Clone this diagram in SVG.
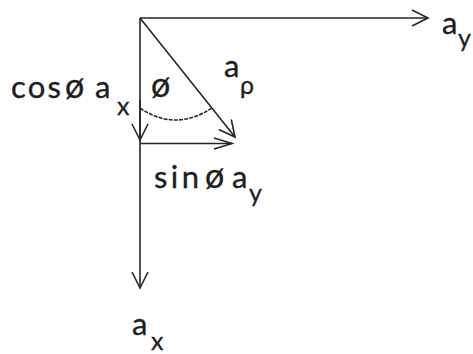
<svg xmlns="http://www.w3.org/2000/svg" width="473" height="354" viewBox="0 0 473 354">
<style>
.ln{stroke:#262626;stroke-width:1.6;fill:none}
.t{font-family:Lato,"Open Sans",sans-serif;font-size:31px;fill:#1e1e1e;stroke:#1e1e1e;stroke-width:0.35}
.p{font-size:34px}
.s{font-family:Lato,"Open Sans",sans-serif;font-size:25px;fill:#1e1e1e;stroke:#1e1e1e;stroke-width:0.3}
</style>
<defs>
<marker id="ah" markerUnits="userSpaceOnUse" viewBox="-18 -10 20 20" refX="0" refY="0" markerWidth="20" markerHeight="20" orient="auto" overflow="visible">
<path d="M-16,-8 L0,0 L-16,8" fill="none" stroke="#262626" stroke-width="1.6"/>
</marker>
<marker id="ahs" markerUnits="userSpaceOnUse" viewBox="-18 -10 20 20" refX="0" refY="0" markerWidth="20" markerHeight="20" orient="auto" overflow="visible">
<path d="M-18,-5.5 L0,0 L-18,5.5" fill="none" stroke="#262626" stroke-width="1.6"/>
</marker>
</defs>
<rect width="473" height="354" fill="#fff"/>
<g id="connectors">
<line class="ln" x1="140" y1="18" x2="428" y2="18" marker-end="url(#ah)"/>
<line class="ln" x1="140" y1="18" x2="140" y2="288" marker-end="url(#ah)"/>
<line class="ln" x1="140" y1="100" x2="140" y2="140" marker-end="url(#ah)"/>
<line class="ln" x1="140" y1="143.5" x2="232" y2="143.5" marker-end="url(#ahs)"/>
<line class="ln" x1="140" y1="18" x2="235" y2="137" marker-end="url(#ah)"/>
<path class="ln" d="M140,108 Q175,132 212,108" stroke-width="1.3" stroke-dasharray="4 1.2"/>
</g>
<g id="label-ay">
<text class="t" x="442" y="34">a</text><text class="s" x="458" y="47">y</text>
</g>
<g id="label-ap">
<text class="t" x="224" y="77">a</text><text class="s" x="240" y="94">ρ</text>
</g>
<g id="label-phi">
<text class="t p" x="151" y="97">ø</text>
</g>
<g id="label-cos">
<text class="t" x="11" y="98" textLength="50" lengthAdjust="spacing">cos</text>
<text class="t p" x="65" y="98">ø</text>
<text class="t" x="95" y="98">a</text>
<text class="s" x="117" y="115">x</text>
</g>
<g id="label-sin">
<text class="t" x="154" y="188" textLength="45" lengthAdjust="spacing">sin</text>
<text class="t p" x="205" y="188">ø</text>
<text class="t" x="232" y="188">a</text>
<text class="s" x="249" y="202">y</text>
</g>
<g id="label-ax">
<text class="t" x="132" y="335">a</text><text class="s" x="151" y="350">x</text>
</g>
</svg>
